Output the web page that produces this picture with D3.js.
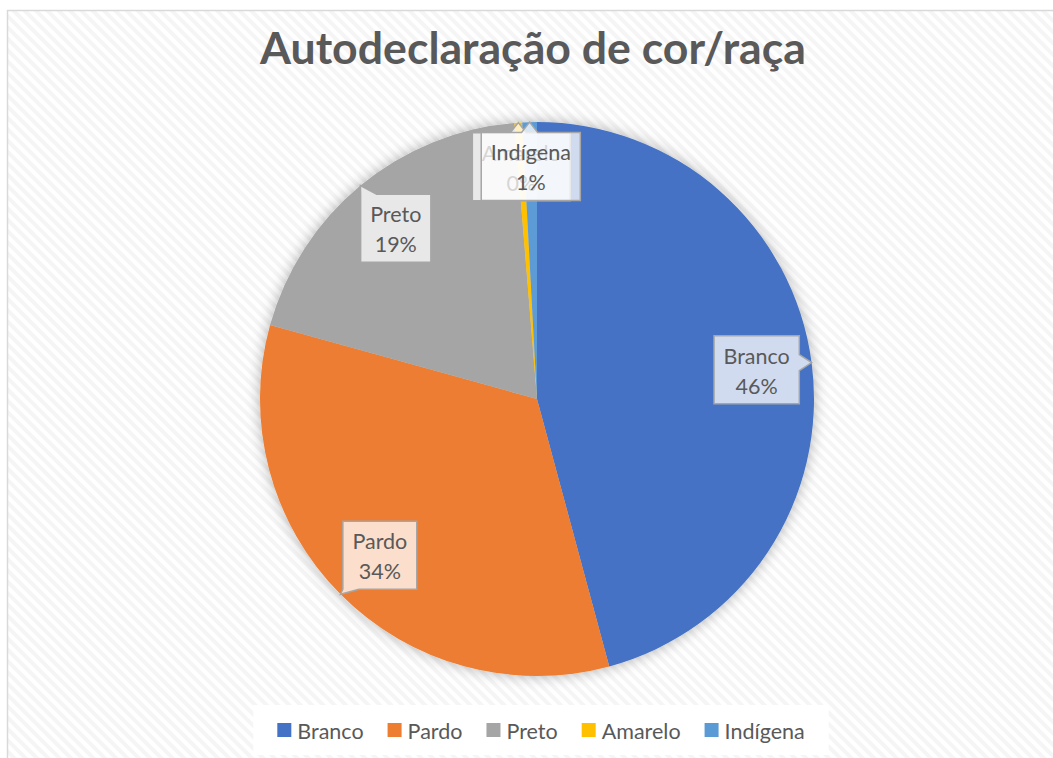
<!DOCTYPE html>
<html lang="pt">

<head>
  <meta charset="UTF-8">
  <title>Autodeclaração de cor/raça</title>
  <script src="https://d3js.org/d3.v7.min.js"></script>
  <style>
    body { margin: 0; background: #fff; }
    svg { display: block; }
  </style>
</head>

<body>

  <script>
    // data (percent of respondents)
    const categories = ['Branco', 'Pardo', 'Preto', 'Amarelo', 'Indígena'];
    const values = [45.8, 33.5, 19.4, 0.45, 0.85];
    const colors = ['#4472c4', '#ed7d31', '#a5a5a5', '#ffc000', '#5b9bd5'];
    const title = 'Autodeclaração de cor/raça';

    const width = 1053;
    const height = 758;
    const cx = 537, cy = 399, radius = 277;
    const textColor = '#595959';
    const font = 'Lato, "Open Sans", sans-serif';

    const svg = d3.select('body')
      .append('svg')
      .attr('width', width)
      .attr('height', height);

    const defs = svg.append('defs');

    // faint diagonal weave of the chart background
    const pat = defs.append('pattern')
      .attr('id', 'stripes')
      .attr('patternUnits', 'userSpaceOnUse')
      .attr('width', 8)
      .attr('height', 8)
      .attr('patternTransform', 'rotate(-45)');
    pat.append('rect').attr('width', 8).attr('height', 8).attr('fill', '#ffffff');
    pat.append('rect').attr('width', 4).attr('height', 8).attr('fill', '#f5f5f5');

    const shadow = defs.append('filter')
      .attr('id', 'shadow')
      .attr('x', '-20%').attr('y', '-20%')
      .attr('width', '140%').attr('height', '140%');
    shadow.append('feDropShadow')
      .attr('dx', 0).attr('dy', 0)
      .attr('stdDeviation', 7)
      .attr('flood-color', '#000')
      .attr('flood-opacity', 0.3);

    // chart area
    svg.append('rect')
      .attr('x', 7.5).attr('y', 10.5)
      .attr('width', width).attr('height', height)
      .attr('fill', 'url(#stripes)')
      .attr('stroke', '#d9d9d9')
      .attr('stroke-width', 1.5);

    // title, fitted to the width it has in the picture
    const titleText = svg.append('text')
      .attr('x', 533)
      .attr('y', 64)
      .attr('text-anchor', 'middle')
      .attr('font-family', font)
      .attr('font-weight', 'bold')
      .attr('font-size', 40)
      .attr('fill', textColor)
      .text(title);
    const tw = titleText.node().getComputedTextLength();
    titleText.attr('font-size', 40 * 546 / tw);

    // pie
    const pie = d3.pie().sort(null).value(d => d.value);
    const data = categories.map((c, i) => ({ name: c, value: values[i], color: colors[i] }));
    const arcs = pie(data);
    const total = d3.sum(values);

    const arc = d3.arc().innerRadius(0).outerRadius(radius);

    const g = svg.append('g')
      .attr('transform', `translate(${cx},${cy})`);

    g.append('g')
      .attr('filter', 'url(#shadow)')
      .selectAll('path')
      .data(arcs)
      .enter()
      .append('path')
      .attr('d', arc)
      .attr('fill', d => d.data.color);

    // data labels: callout boxes pointing to the slice edge
    function point(angle, r) {
      return [Math.sin(angle) * r, -Math.cos(angle) * r];
    }

    function calloutPath(x0, y0, x1, y1, tx, ty) {
      const over = {
        top: y0 - ty, bottom: ty - y1, left: x0 - tx, right: tx - x1
      };
      let side = null, best = 0;
      for (const k in over) {
        if (over[k] > best) { best = over[k]; side = k; }
      }
      const hw = 8;
      const cl = (v, a, b) => Math.max(a + hw, Math.min(b - hw, v));
      let p = `M${x0},${y0}`;
      if (side === 'top') {
        const m = cl(tx, x0, x1);
        p += `L${m - hw},${y0}L${tx},${ty}L${m + hw},${y0}`;
      }
      p += `L${x1},${y0}`;
      if (side === 'right') {
        const m = cl(ty, y0, y1);
        p += `L${x1},${m - hw}L${tx},${ty}L${x1},${m + hw}`;
      }
      p += `L${x1},${y1}`;
      if (side === 'bottom') {
        const m = cl(tx, x0, x1);
        p += `L${m + hw},${y1}L${tx},${ty}L${m - hw},${y1}`;
      }
      p += `L${x0},${y1}`;
      if (side === 'left') {
        const m = cl(ty, y0, y1);
        p += `L${x0},${m + hw}L${tx},${ty}L${x0},${m - hw}`;
      }
      return p + 'Z';
    }

    const labels = g.append('g');
    arcs.forEach(d => {
      const pct = d.data.value / total * 100;
      const mid = (d.startAngle + d.endAngle) / 2;
      const lr = pct < 2 ? radius * 0.84 : radius * 0.8;
      const [lx, ly] = point(mid, lr);
      const [tx, ty] = point(mid, radius);

      const lg = labels.append('g');
      const path = lg.append('path');
      const t1 = lg.append('text')
        .attr('x', lx).attr('y', ly - 6)
        .attr('text-anchor', 'middle')
        .attr('font-family', font)
        .attr('font-size', 21.5)
        .attr('fill', textColor)
        .text(d.data.name);
      const t2 = lg.append('text')
        .attr('x', lx).attr('y', ly + 24)
        .attr('text-anchor', 'middle')
        .attr('font-family', font)
        .attr('font-size', 21.5)
        .attr('fill', textColor)
        .text(Math.round(pct) + '%');

      const w = Math.max(t1.node().getComputedTextLength(), t2.node().getComputedTextLength()) + 19;
      const h = 68;
      const x0 = lx - w / 2, y0 = ly - h / 2;
      path.attr('d', calloutPath(x0, y0, x0 + w, y0 + h, tx, ty))
        .attr('fill', '#ffffff')
        .attr('fill-opacity', 0.75)
        .attr('stroke', '#a6a6a6')
        .attr('stroke-width', 1.5);
    });

    // legend
    const legendY = 739;
    const legend = svg.append('g');
    const legendBg = legend.append('rect')
      .attr('y', 705)
      .attr('height', 50)
      .attr('fill', '#ffffff');

    const items = legend.selectAll('g.item')
      .data(data)
      .enter()
      .append('g')
      .attr('class', 'item');

    items.append('rect')
      .attr('width', 14)
      .attr('height', 14)
      .attr('y', legendY - 16)
      .attr('fill', d => d.color);

    items.append('text')
      .attr('x', 20)
      .attr('y', legendY)
      .attr('font-family', font)
      .attr('font-size', 21.5)
      .attr('fill', textColor)
      .text(d => d.name);

    const widths = [];
    items.each(function () {
      widths.push(20 + d3.select(this).select('text').node().getComputedTextLength());
    });
    const gap = 24;
    const legendW = d3.sum(widths) + gap * (widths.length - 1);
    let lx = 541 - legendW / 2;
    items.attr('transform', (d, i) => {
      const x = lx;
      lx += widths[i] + gap;
      return `translate(${x},0)`;
    });
    legendBg.attr('x', 541 - legendW / 2 - 24).attr('width', legendW + 48);
  </script>

</body>

</html>
